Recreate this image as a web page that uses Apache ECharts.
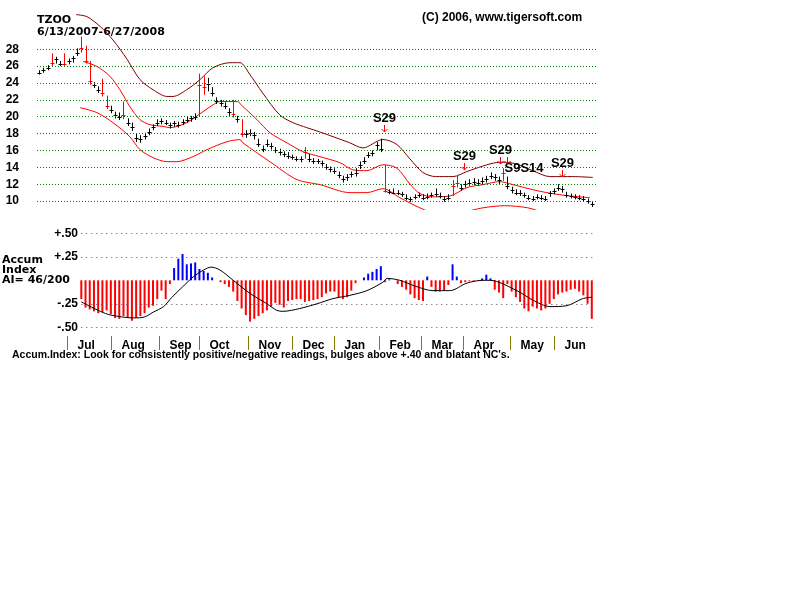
<!DOCTYPE html>
<html>
<head>
<meta charset="utf-8">
<script src="https://cdn.jsdelivr.net/npm/echarts@6/dist/echarts.min.js"></script>
<style>
  html, body { margin: 0; padding: 0; background: #fff; }
  #chart { width: 800px; height: 600px; }
</style>
</head>
<body>
<div id="chart"></div>
<script>
// x = trading day, 0 = 6/13/2007 ... 263 = 6/27/2008; one bar every 2 days
const barStep = 2
const closes = [
  25.2, 25.5, 25.8, 26.4, 26.8, 26.3, 26.2, 26.6, 26.9, 27.6,
  28.2, 26.6, 24.2, 23.8, 23.2, 22.8, 21.3, 20.8, 20.2, 20.0,
  20.2, 19.3, 18.8, 17.5, 17.3, 17.7, 18.2, 18.8, 19.3, 19.5,
  19.3, 19.0, 19.2, 19.0, 19.4, 19.6, 19.8, 20.0, 23.8, 23.5,
  23.9, 22.8, 21.9, 21.6, 21.3, 20.5, 20.3, 19.7, 18.0, 17.9,
  18.1, 17.8, 16.8, 16.2, 16.8, 16.5, 16.0, 15.8, 15.6, 15.4,
  15.2, 15.0, 15.0, 15.8, 15.0, 14.8, 14.7, 14.5, 14.0, 13.8,
  13.6, 13.1, 12.6, 12.8, 13.2, 13.3, 14.3, 14.8, 15.5, 15.7,
  16.6, 16.2, 11.2, 11.1, 11.0, 11.0, 10.8, 10.4, 10.2, 10.5,
  10.7, 10.4, 10.5, 10.7, 10.8, 10.6, 10.2, 10.4, 11.8, 12.2,
  11.5, 12.0, 12.2, 12.3, 12.2, 12.4, 12.6, 13.0, 12.8, 12.5,
  13.3, 11.8, 11.3, 11.0, 11.0, 10.7, 10.4, 10.3, 10.5, 10.4,
  10.3, 10.9, 11.2, 11.6, 11.4, 10.7, 10.6, 10.5, 10.4, 10.2,
  10.0, 9.6
]
const highs = [
  25.5, 25.8, 26.1, 27.5, 27.1, 26.6, 27.5, 26.9, 27.2, 28.1,
  29.5, 28.4, 26.6, 24.1, 23.6, 24.5, 22.5, 21.3, 20.6, 20.5,
  21.8, 19.8, 19.3, 18.0, 17.8, 18.1, 18.6, 19.1, 19.7, 19.8,
  19.6, 19.3, 19.5, 19.4, 19.7, 20.0, 20.1, 20.4, 25.1, 24.8,
  24.6, 23.5, 22.3, 22.0, 21.7, 21.0, 22.0, 20.1, 19.7, 18.4,
  18.5, 18.2, 17.4, 16.6, 17.3, 16.9, 16.4, 16.2, 15.9, 15.8,
  15.5, 15.3, 15.3, 16.4, 15.6, 15.1, 15.0, 14.8, 14.4, 14.1,
  13.9, 13.5, 13.0, 13.2, 13.5, 13.9, 14.7, 15.2, 15.8, 16.0,
  17.0, 17.4, 14.3, 11.4, 11.5, 11.3, 11.1, 10.8, 10.5, 10.8,
  11.0, 10.8, 10.9, 11.0, 11.5, 11.0, 10.6, 10.8, 12.5, 13.1,
  12.0, 12.4, 12.6, 12.7, 12.6, 12.8, 13.0, 13.4, 13.2, 12.9,
  13.9, 12.9, 11.7, 11.4, 11.3, 11.0, 10.7, 10.6, 10.8, 10.7,
  10.6, 11.2, 11.5, 12.0, 11.8, 11.1, 10.9, 10.8, 10.7, 10.6,
  10.3, 10.0
]
const lows = [
  25.0, 25.2, 25.5, 26.0, 26.3, 26.0, 25.9, 26.2, 26.4, 27.2,
  27.6, 26.3, 23.8, 23.4, 22.8, 22.4, 20.9, 20.4, 19.8, 19.6,
  19.7, 18.9, 18.3, 17.0, 16.9, 17.3, 17.8, 18.4, 18.9, 19.1,
  19.0, 18.6, 18.8, 18.7, 19.0, 19.3, 19.4, 19.6, 20.0, 22.6,
  23.0, 22.4, 21.5, 21.2, 20.9, 20.1, 19.9, 19.3, 17.6, 17.5,
  17.7, 17.3, 16.4, 15.8, 16.4, 16.1, 15.7, 15.4, 15.2, 15.0,
  14.9, 14.7, 14.6, 15.0, 14.6, 14.4, 14.4, 14.1, 13.7, 13.4,
  13.2, 12.7, 12.2, 12.4, 12.8, 12.9, 13.8, 14.4, 15.1, 15.3,
  16.0, 15.8, 11.0, 10.8, 10.8, 10.7, 10.5, 10.1, 9.9, 10.2,
  10.4, 10.1, 10.2, 10.4, 10.5, 10.3, 9.9, 10.1, 10.6, 11.6,
  11.2, 11.6, 11.8, 11.9, 11.8, 12.0, 12.2, 12.6, 12.4, 12.0,
  12.4, 11.4, 10.9, 10.7, 10.6, 10.4, 10.1, 10.0, 10.2, 10.1,
  10.0, 10.5, 10.8, 11.2, 11.0, 10.4, 10.3, 10.2, 10.1, 9.9,
  9.7, 9.3
]
const redBars = [3, 6, 10, 11, 12, 15, 16, 20, 38, 39, 46, 48, 63, 82, 98, 99, 110]

// bands: [day, price]
const upperBand = [
  [17.5, 32.1], [22.7, 31.85], [28.9, 30.7], [35, 29.1], [41.7, 26.8], [47.8, 24.4],
  [54, 23.2], [60.6, 22.4], [63.5, 22.4], [70, 23.2], [76.3, 24.4], [82.4, 25.8],
  [90.5, 26.4], [95.2, 26.4], [99.9, 25.0], [106, 22.8], [114.1, 20.2], [120.3, 19.3],
  [126.9, 18.7], [133, 18.2], [147.3, 16.9], [153.5, 16.3], [163, 17.3], [169.6, 16.7],
  [175.8, 15.0], [181.9, 13.4], [188, 12.9], [196.2, 12.9], [202.8, 13.5], [212.3, 14.3],
  [218.4, 14.6], [224.6, 14.5], [234, 13.6], [242.1, 12.9], [253, 12.9], [262.5, 12.8]
]
const midLine = [
  [20.8, 26.55], [27.4, 25.96], [33.6, 24.78], [38.3, 23.2], [43, 21.2], [47.8, 19.65],
  [52.6, 19.05], [58.7, 18.85], [62, 18.7], [70, 19.3], [77.7, 20.6], [82.4, 21.4],
  [85.7, 21.8], [93.8, 21.8], [96.6, 21.2], [103.3, 19.65], [109.4, 18.1], [117.5, 16.9],
  [125.1, 15.85], [133.1, 15.26], [142.6, 14.55], [148.8, 13.7], [155.4, 13.6], [163, 14.3],
  [169.6, 13.9], [175.8, 12.0], [180.5, 10.9], [186.7, 10.5], [194.7, 10.6], [202.8, 11.6],
  [210.4, 11.95], [218.4, 12.3], [224.6, 11.95], [234, 11.35], [240.7, 11.0], [250.2, 10.64],
  [261.1, 10.4]
]
const lowerBand = [
  [19.4, 21.07], [27.4, 20.48], [35, 19.3], [43, 17.63], [47.8, 16.1], [54, 15.15],
  [60.6, 14.67], [65.3, 14.67], [72.9, 15.26], [79.6, 16.1], [89.1, 17.04], [95.2, 17.28],
  [96.6, 16.9], [109.4, 14.67], [122.2, 12.54], [133.1, 11.95], [147.3, 11.0], [155.4, 11.0],
  [163, 11.47], [171, 10.4], [180.5, 9.2], [190, 8.4], [199.5, 8.6], [210.4, 9.2],
  [220.8, 9.45], [231.7, 9.2], [242, 8.5], [261, 8.4]
]

// accumulation index, one value every 2 days from day 20
const accumStart = 20
const accumIndex = [
  -0.20, -0.29, -0.31, -0.33, -0.35, -0.34, -0.32, -0.36, -0.40, -0.41,
  -0.38, -0.40, -0.43, -0.40, -0.38, -0.35, -0.29, -0.27, -0.20, -0.11,
  -0.20, -0.04, 0.13, 0.23, 0.28, 0.17, 0.18, 0.19, 0.12, 0.10,
  0.08, 0.03, 0.00, -0.02, -0.04, -0.07, -0.12, -0.22, -0.30, -0.37,
  -0.44, -0.41, -0.38, -0.35, -0.32, -0.28, -0.24, -0.26, -0.29, -0.22,
  -0.21, -0.20, -0.20, -0.23, -0.22, -0.21, -0.20, -0.18, -0.14, -0.12,
  -0.12, -0.18, -0.20, -0.18, -0.11, -0.03, 0.00, 0.03, 0.07, 0.09,
  0.12, 0.15, -0.02, 0.01, 0.00, -0.04, -0.07, -0.10, -0.15, -0.19,
  -0.21, -0.22, 0.04, -0.07, -0.12, -0.12, -0.11, -0.05, 0.17, 0.04,
  -0.03, -0.02, -0.01, -0.01, 0.00, 0.02, 0.06, 0.02, -0.10, -0.13,
  -0.19, -0.04, -0.12, -0.18, -0.23, -0.30, -0.33, -0.28, -0.30, -0.32,
  -0.30, -0.25, -0.20, -0.15, -0.13, -0.12, -0.10, -0.09, -0.12, -0.16,
  -0.25, -0.41
]
const accumAvg = [
  [20, -0.23], [29, -0.33], [34, -0.37], [45, -0.40], [50, -0.39], [54, -0.34],
  [59, -0.28], [63, -0.18], [68, -0.07], [73, 0.035], [78, 0.11], [81.5, 0.14],
  [85.7, 0.11], [92, 0.0], [100, -0.14], [108, -0.25], [112.7, -0.32], [115.6, -0.33],
  [123.6, -0.30], [131.7, -0.25], [139.3, -0.195], [147.3, -0.16], [155.4, -0.11], [163, -0.02],
  [165, 0.02], [171, 0.0], [178, -0.06], [186.7, -0.11], [194.7, -0.11], [202.8, -0.03],
  [210.4, 0.0], [213.7, 0.0], [226.5, -0.11], [234, -0.21], [242.1, -0.28], [250.2, -0.27],
  [257.7, -0.195], [262, -0.18]
]

const priceTicks = [10, 12, 14, 16, 18, 20, 22, 24, 26, 28]
const accumTicks = [0.5, 0.25, -0.25, -0.5]
const accumTickLabels = ['+.50', '+.25', '-.25', '-.50']
const monthNames = ['Jul', 'Aug', 'Sep', 'Oct', 'Nov', 'Dec', 'Jan', 'Feb', 'Mar', 'Apr', 'May', 'Jun']
const monthStarts = [13, 34, 57, 76, 99, 120, 140, 161, 181, 201, 223, 244]

const signalDays = [163.4, 201.4, 218.4, 221.7, 247.8]
const signalPrices = [18.2, 13.7, 14.4, 14.4, 12.9]
const signalLabels = ['S29', 'S29', 'S29', 'S9S14', 'S29']
const signalLabelPos = ['top', 'top', 'top', 'right', 'top']

const labelFont = 'bold 12px "Liberation Sans", Arial, sans-serif'
const titleFont = 'bold 11px "DejaVu Sans", sans-serif'

const chart = echarts.init(document.getElementById('chart'), null, { renderer: 'canvas' })

const barData = closes.map((c, i) => [i * barStep, highs[i], lows[i], c, redBars.includes(i) ? 1 : 0])
const accumData = accumIndex.map((v, i) => [accumStart + i * barStep, v])

const option = {
  animation: false,
  backgroundColor: '#fff',
  grid: [
    { left: 37, top: 7, width: 559, height: 202.5 },
    { left: 37, top: 233.3, width: 559, height: 94 },
    { left: 37, top: 336, width: 559, height: 14 }
  ],
  xAxis: [0, 1, 2].map(g => ({
    type: 'value', gridIndex: g, min: -1, max: 264, show: false
  })),
  yAxis: [
    {
      type: 'value', gridIndex: 0, min: 9, max: 33, interval: 1,
      axisLine: { show: false }, axisTick: { show: false }, splitLine: { show: false },
      axisLabel: {
        margin: 18, color: '#000', fontFamily: '"Liberation Sans", Arial', fontWeight: 'bold', fontSize: 12,
        formatter: v => priceTicks.includes(v) ? String(v) : ''
      }
    },
    {
      type: 'value', gridIndex: 1, min: -0.5, max: 0.5, interval: 0.25, offset: -44,
      axisLine: { show: false }, axisTick: { show: false }, splitLine: { show: false },
      axisLabel: {
        margin: 3, color: '#000', fontFamily: '"Liberation Sans", Arial', fontWeight: 'bold', fontSize: 12,
        formatter: v => {
          const i = accumTicks.findIndex(t => Math.abs(t - v) < 1e-9)
          return i >= 0 ? accumTickLabels[i] : ''
        }
      }
    },
    { type: 'value', gridIndex: 2, min: 0, max: 1, show: false }
  ],
  graphic: [
    { type: 'text', left: 37, top: 15, style: { text: 'TZOO', font: titleFont, fill: '#000' } },
    { type: 'text', left: 37, top: 27, style: { text: '6/13/2007-6/27/2008', font: titleFont, fill: '#000' } },
    { type: 'text', left: 422, top: 12, style: { text: '(C) 2006, www.tigersoft.com', font: labelFont, fill: '#000' } },
    { type: 'text', left: 2, top: 255, style: { text: 'Accum\nIndex\nAI= 46/200', font: titleFont, lineHeight: 10, fill: '#000' } },
    { type: 'text', left: 12, top: 350, style: { text: "Accum.Index: Look for consistently positive/negative readings, bulges above +.40 and blatant NC's.", font: 'bold 10.5px "Liberation Sans", Arial, sans-serif', fill: '#000' } }
  ],
  series: [
    {
      name: 'upper', type: 'line', xAxisIndex: 0, yAxisIndex: 0, data: upperBand,
      smooth: 0.3, symbol: 'none', lineStyle: { color: '#800000', width: 1 }, z: 3,
      markLine: {
        silent: true, symbol: 'none', label: { show: false },
        lineStyle: { color: '#008000', width: 1, type: [1, 2] },
        data: priceTicks.map(v => ({ yAxis: v }))
      }
    },
    {
      name: 'mid', type: 'line', xAxisIndex: 0, yAxisIndex: 0, data: midLine,
      smooth: 0.3, symbol: 'none', lineStyle: { color: '#ff0000', width: 1 }, z: 3
    },
    {
      name: 'lower', type: 'line', xAxisIndex: 0, yAxisIndex: 0, data: lowerBand,
      smooth: 0.3, symbol: 'none', lineStyle: { color: '#ff0000', width: 1 }, z: 3
    },
    {
      name: 'price', type: 'custom', xAxisIndex: 0, yAxisIndex: 0, data: barData, z: 4,
      encode: { x: 0, y: [1, 2, 3] },
      renderItem: (params, api) => {
        const d = api.value(0)
        const hi = api.coord([d, api.value(1)])
        const lo = api.coord([d, api.value(2)])
        const cl = api.coord([d, api.value(3)])
        const color = api.value(4) ? '#ff0000' : '#000000'
        const x = Math.round(hi[0]) + 0.5
        const cy = Math.round(cl[1]) + 0.5
        return {
          type: 'group',
          children: [
            { type: 'line', shape: { x1: x, y1: hi[1], x2: x, y2: lo[1] }, style: { stroke: color, lineWidth: 1 } },
            { type: 'line', shape: { x1: x - 2, y1: cy, x2: x + 2, y2: cy }, style: { stroke: color, lineWidth: 1 } }
          ]
        }
      }
    },
    {
      name: 'signals', type: 'custom', xAxisIndex: 0, yAxisIndex: 0, z: 5,
      data: signalDays.map((d, i) => [d, signalPrices[i]]),
      renderItem: (params, api) => {
        const i = params.dataIndex
        const p = api.coord([api.value(0), api.value(1)])
        const x = Math.round(p[0]) + 0.5
        const y = Math.round(p[1])
        const children = [
          { type: 'line', shape: { x1: x, y1: y - 7, x2: x, y2: y }, style: { stroke: '#ff0000', lineWidth: 1 } },
          { type: 'polyline', shape: { points: [[x - 3, y - 3], [x, y], [x + 3, y - 3]] }, style: { stroke: '#ff0000', fill: null, lineWidth: 1 } }
        ]
        if (signalLabels[i]) {
          const right = signalLabelPos[i] === 'right'
          children.push({
            type: 'text', x: right ? x - 3 : x, y: right ? y + 4 : y - 14,
            style: { text: signalLabels[i], font: 'bold 13px "Liberation Sans", Arial', fill: '#000', align: right ? 'left' : 'center', verticalAlign: 'middle' }
          })
        }
        return { type: 'group', children }
      }
    },
    {
      name: 'accum', type: 'bar', xAxisIndex: 1, yAxisIndex: 1, data: accumData,
      barWidth: 2,
      itemStyle: { color: p => p.value[1] >= 0 ? '#0000ff' : '#ff0000' }
    },
    {
      name: 'accumAvg', type: 'line', xAxisIndex: 1, yAxisIndex: 1, data: accumAvg,
      smooth: 0.3, symbol: 'none', lineStyle: { color: '#000', width: 1 }, z: 3,
      markLine: {
        silent: true, symbol: 'none', label: { show: false },
        lineStyle: { color: '#704070', width: 1, type: [1, 4] },
        data: accumTicks.map(t => [{ coord: [accumStart, t] }, { coord: [264, t] }])
      }
    },
    {
      name: 'months', type: 'custom', xAxisIndex: 2, yAxisIndex: 2,
      data: monthStarts.map((d, i) => [d, i]),
      renderItem: (params, api) => {
        const top = api.coord([api.value(0), 1])
        const bot = api.coord([api.value(0), 0])
        const x = Math.round(top[0]) + 0.5
        return {
          type: 'group',
          children: [
            { type: 'line', shape: { x1: x, y1: top[1], x2: x, y2: bot[1] }, style: { stroke: '#808000', lineWidth: 1 } },
            { type: 'text', x: x + 10, y: (top[1] + bot[1]) / 2 + 3, style: { text: monthNames[params.dataIndex], font: labelFont, fill: '#000', align: 'left', verticalAlign: 'middle' } }
          ]
        }
      }
    }
  ]
}

chart.setOption(option)
window.addEventListener('resize', () => chart.resize())
</script>
</body>
</html>
